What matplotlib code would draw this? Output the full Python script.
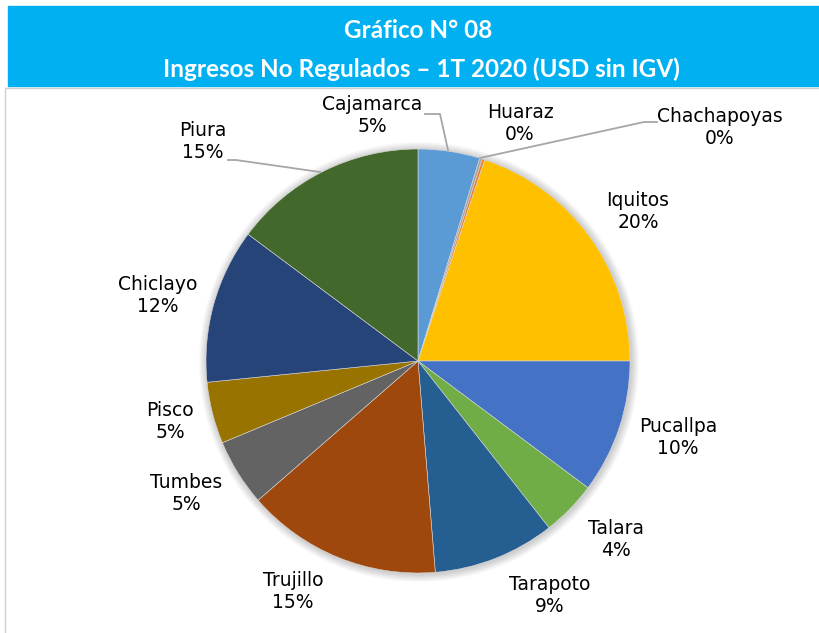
import matplotlib

matplotlib.use("Agg")
import matplotlib.pyplot as plt
from matplotlib.patches import Rectangle, Circle

plt.rcParams["font.family"] = ["Lato", "DejaVu Sans"]

# data (shares of total, %)
regions = ["Cajamarca", "Huaraz", "Chachapoyas", "Iquitos", "Pucallpa", "Talara",
           "Tarapoto", "Trujillo", "Tumbes", "Pisco", "Chiclayo", "Piura"]
shares = [4.7, 0.2, 0.2, 19.9, 10.2, 4.2, 9.3, 14.9, 5.1, 4.7, 11.8, 14.8]
pct_labels = ["5%", "0%", "0%", "20%", "10%", "4%", "9%", "15%", "5%", "5%", "12%", "15%"]

colors = ["#5B9BD5", "#A5A5A5", "#ED7D31", "#FFC000", "#4472C4", "#70AD47",
          "#255E91", "#9E480E", "#636363", "#997300", "#264478", "#43682B"]

# label anchor positions in pixel space (x, y from top)
label_pos = [(372, 115), (520, 124), (720, 128), (638, 212), (678, 438), (616, 539),
             (550, 595), (293, 592), (186, 494), (170, 422), (158, 296), (203, 142)]

W, H = 819, 633
fig = plt.figure(figsize=(W / 100, H / 100), dpi=100)
ax = fig.add_axes([0, 0, 1, 1])

cx, cy, r = 418, H - 361, 212

ax.pie(shares, colors=colors, startangle=90, counterclock=False,
       center=(cx, cy), radius=r, frame=True,
       wedgeprops={"edgecolor": "#d9d9d9", "linewidth": 0.4, "zorder": 3})
ax.set_xlim(0, W)
ax.set_ylim(0, H)
ax.set_aspect("equal")
ax.axis("off")

# soft shadow around the pie
for k in range(8, 0, -1):
    ax.add_patch(Circle((cx + 1, cy - 1), r + k, color="#000000", alpha=0.025,
                        lw=0, zorder=2))

# title banner
ax.add_patch(Rectangle((8, H - 86), W - 8, 80, color="#00B0F0", zorder=1))
ax.text(418, H - 31, "Gráfico N° 08", ha="center", va="center", color="white",
        fontsize=17.5, fontweight="bold")
ax.text(421, H - 69, "Ingresos No Regulados – 1T 2020 (USD sin IGV)", ha="center",
        va="center", color="white", fontsize=17.5, fontweight="bold")

# chart frame
ax.plot([5, 5, W], [0, H - 88, H - 88], color="#d0d0d0", lw=1, zorder=1)

for name, pct, (px, py) in zip(regions, pct_labels, label_pos):
    ax.text(px, H - py, f"{name}\n{pct}", ha="center", va="center", fontsize=13.5,
            family="DejaVu Sans", color="black", linespacing=1.2, zorder=5)

# leader lines
lc = "#a6a6a6"
ax.plot([228, 236, 320], [H - 160, H - 160, H - 172], color=lc, lw=1.3, zorder=4)
ax.plot([425, 440, 448], [H - 114, H - 114, H - 150], color=lc, lw=1.3, zorder=4)
ax.plot([657, 644, 480], [H - 122, H - 122, H - 158], color=lc, lw=1.3, zorder=4)

fig.savefig("out.png", dpi=100)
